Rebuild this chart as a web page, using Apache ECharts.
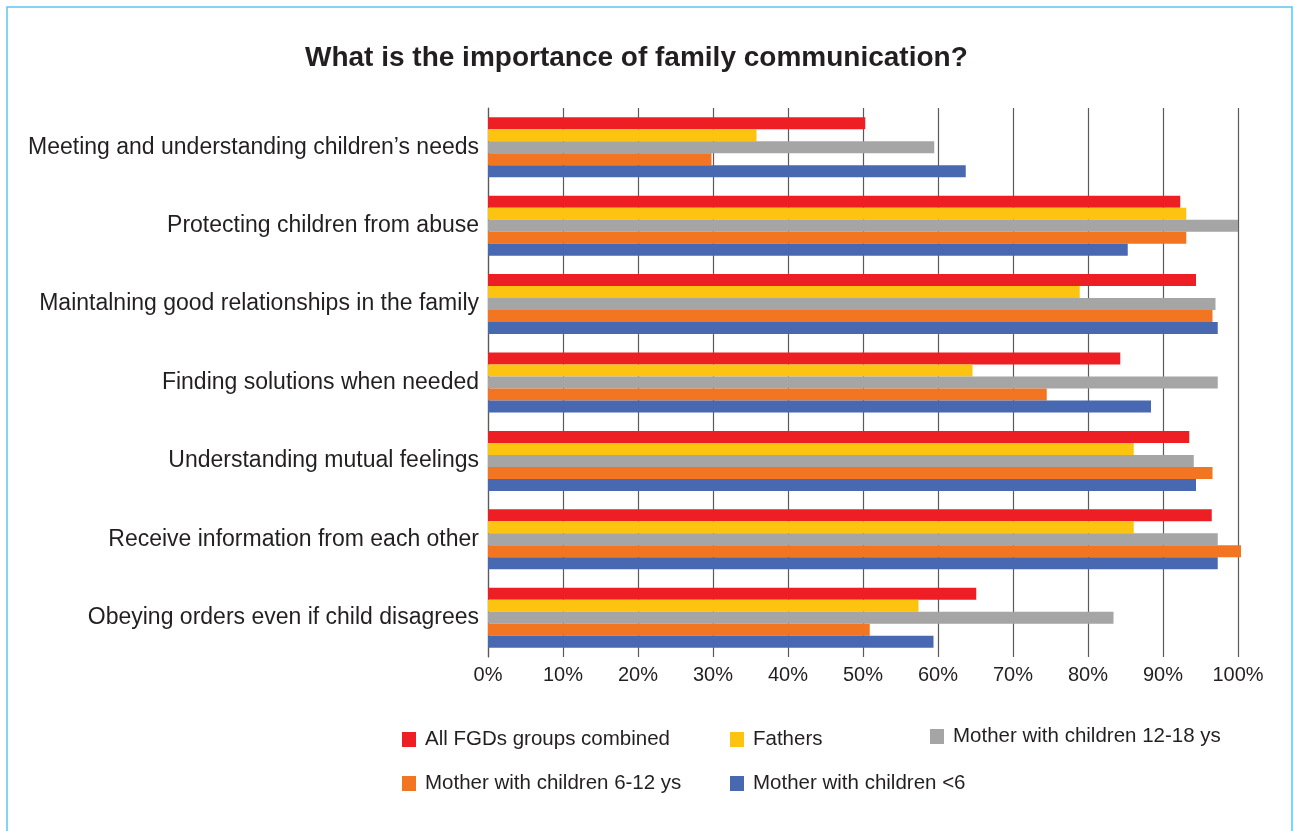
<!DOCTYPE html>
<html>
<head>
<meta charset="utf-8">
<script src="https://cdn.jsdelivr.net/npm/echarts@6/dist/echarts.min.js"></script>
<style>
html,body{margin:0;padding:0;background:#fff;}
#chart{width:1293px;height:831px;}
</style>
</head>
<body>
<div id="chart"></div>
<script>
const categories = [
  "Meeting and understanding children’s needs",
  "Protecting children from abuse",
  "Maintalning good relationships in the family",
  "Finding solutions when needed",
  "Understanding mutual feelings",
  "Receive information from each other",
  "Obeying orders even if child disagrees"
];
const seriesNames = [
  "All FGDs groups combined",
  "Fathers",
  "Mother with children 12-18 ys",
  "Mother with children 6-12 ys",
  "Mother with children <6"
];
const allGroups   = [50.3, 92.3, 94.4, 84.3, 93.5, 96.5, 65.1];
const fathers     = [35.8, 93.1, 78.9, 64.6, 86.1, 86.1, 57.4];
const mothers1218 = [59.5, 100, 97.0, 97.3, 94.1, 97.3, 83.4];
const mothers612  = [29.8, 93.1, 96.6, 74.5, 96.6, 100.4, 50.9];
const mothersU6   = [63.7, 85.3, 97.3, 88.4, 94.4, 97.3, 59.4];
const xTicks = [0, 10, 20, 30, 40, 50, 60, 70, 80, 90, 100];

const colors = ["#ED1F24", "#FDC311", "#A5A5A5", "#F27522", "#4869B1"];
const values = [allGroups, fathers, mothers1218, mothers612, mothersU6];
const legendPos = [
  {left: 402, top: 729},
  {left: 730, top: 729},
  {left: 930, top: 726},
  {left: 402, top: 773},
  {left: 730, top: 773}
];

const chart = echarts.init(document.getElementById('chart'), null, {renderer: 'canvas'});
const textColor = '#231F20';
const font = 'Liberation Sans, Arial, Helvetica, sans-serif';

chart.setOption({
  animation: false,
  backgroundColor: '#fff',
  title: {
    text: 'What is the importance of family communication?',
    left: 305,
    top: 44,
    padding: 0,
    textStyle: {fontSize: 28, fontWeight: 'bold', color: textColor, fontFamily: font}
  },
  legend: seriesNames.map((n, i) => ({
    data: [n],
    left: legendPos[i].left,
    top: legendPos[i].top,
    padding: 0,
    icon: 'rect',
    itemWidth: 14,
    itemHeight: 15,
    selectedMode: false,
    textStyle: {fontSize: 20.5, color: textColor, fontFamily: font, padding: [0, 0, 0, 4]}
  })),
  grid: {left: 488, right: 55, top: 108, height: 549, containLabel: false},
  xAxis: {
    type: 'value',
    min: 0,
    max: 100,
    interval: 10,
    axisLine: {show: false},
    axisTick: {show: false},
    splitLine: {show: true, lineStyle: {color: '#5a5a5a', width: 1.2}},
    axisLabel: {
      formatter: v => xTicks.includes(v) ? v + '%' : '',
      fontSize: 20, color: textColor, fontFamily: font, margin: 8
    }
  },
  yAxis: {
    type: 'category',
    inverse: true,
    data: categories,
    axisLine: {show: true, lineStyle: {color: '#5a5a5a', width: 1.2}},
    axisTick: {show: false},
    axisLabel: {fontSize: 23, color: textColor, fontFamily: font, margin: 9}
  },
  series: seriesNames.map((n, i) => ({
    name: n,
    type: 'bar',
    data: values[i],
    clip: false,
    barGap: '0%',
    barCategoryGap: '23.5%',
    itemStyle: {color: colors[i]}
  })),
  graphic: [{
    type: 'rect',
    shape: {x: 7, y: 7, width: 1285, height: 900},
    style: {fill: 'none', stroke: '#5BC5EE', lineWidth: 1.5},
    silent: true
  }]
});
</script>
</body>
</html>
